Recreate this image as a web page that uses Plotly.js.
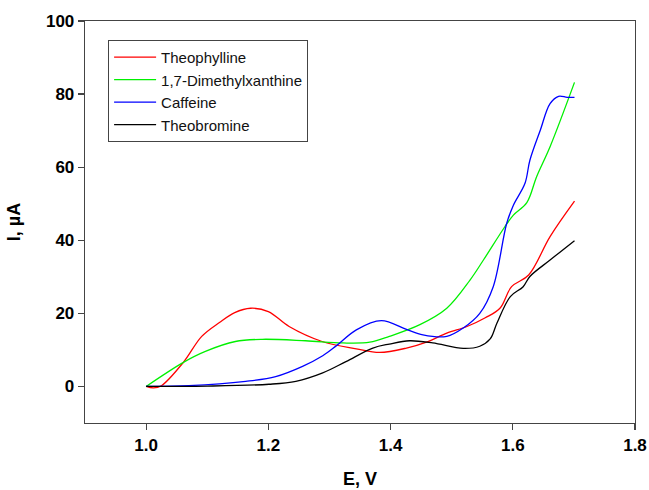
<!DOCTYPE html>
<html><head><meta charset="utf-8">
<script src="https://cdn.plot.ly/plotly-3.0.1.min.js"></script>
<style>html,body{margin:0;padding:0;background:#fff}#chart{width:649px;height:490px}</style>
</head><body><div id="chart"></div>
<script>
const seriesNames = ["Theophylline", "1,7-Dimethylxanthine", "Caffeine", "Theobromine"];
const seriesColors = ["#ff0000", "#00f000", "#0000ff", "#000000"];

const theophyllineE = [1.0, 1.012, 1.025, 1.061, 1.091, 1.12, 1.145, 1.171, 1.2, 1.234, 1.288, 1.344, 1.382, 1.426, 1.46, 1.492, 1.525, 1.555, 1.579, 1.598, 1.626, 1.661, 1.701];
const theophyllineI = [0, -0.4, 0.2, 6.6, 13.7, 17.5, 20.2, 21.4, 20.5, 16.4, 12.3, 10.3, 9.3, 10.5, 12.2, 14.6, 16.4, 18.8, 21.4, 27.3, 30.5, 41, 50.7];

const dimethylE = [1.0, 1.061, 1.097, 1.146, 1.19, 1.261, 1.322, 1.366, 1.398, 1.448, 1.492, 1.53, 1.552, 1.587, 1.601, 1.623, 1.639, 1.661, 1.701];
const dimethylI = [0, 6.6, 9.6, 12.3, 12.9, 12.5, 11.9, 12.1, 13.7, 16.9, 21.4, 29.1, 34.6, 43.7, 46.9, 50.3, 57.4, 65.6, 83.2];

const caffeineE = [1.0, 1.07, 1.163, 1.212, 1.256, 1.289, 1.311, 1.344, 1.385, 1.425, 1.453, 1.492, 1.519, 1.546, 1.568, 1.59, 1.601, 1.62, 1.628, 1.645, 1.661, 1.675, 1.689, 1.701];
const caffeineI = [0, 0.2, 1.4, 2.7, 5.5, 8.4, 11.1, 15.5, 18.0, 15.7, 14.1, 13.7, 16.0, 20.0, 27.3, 44.6, 49.6, 55.6, 61.9, 70.1, 77.4, 79.4, 79.1, 79.1];

const theobromineE = [1.0, 1.1, 1.201, 1.245, 1.289, 1.327, 1.371, 1.398, 1.431, 1.469, 1.519, 1.546, 1.563, 1.574, 1.596, 1.617, 1.628, 1.661, 1.701];
const theobromineI = [0, 0.1, 0.6, 1.4, 3.7, 6.8, 10.5, 11.6, 12.5, 11.9, 10.4, 11.0, 13.0, 17.3, 24.6, 27.3, 30.1, 34.6, 39.9];

const xTicks = [1.0, 1.2, 1.4, 1.6, 1.8];
const xTickText = ["1.0", "1.2", "1.4", "1.6", "1.8"];
const yTicks = [0, 20, 40, 60, 80, 100];

const xs = [theophyllineE, dimethylE, caffeineE, theobromineE];
const ys = [theophyllineI, dimethylI, caffeineI, theobromineI];

const font = "Arial, 'Liberation Sans', sans-serif";
const traces = seriesNames.map((n, i) => ({
  x: xs[i], y: ys[i], name: n, type: 'scatter', mode: 'lines',
  line: {color: seriesColors[i], width: 1.3, shape: 'spline', smoothing: 1.0}
}));

const axisCommon = {
  showline: true, mirror: true, linecolor: '#444', linewidth: 1.3,
  ticks: 'outside', ticklen: 6, tickwidth: 1.2, tickcolor: '#444',
  showgrid: false, zeroline: false,
  tickfont: {family: font, size: 17, color: '#000', weight: 'bold'}
};

const layout = {
  width: 649, height: 490,
  margin: {l: 85, r: 14, t: 21, b: 67},
  paper_bgcolor: '#fff', plot_bgcolor: '#fff',
  showlegend: true,
  legend: {
    x: 0.042, y: 0.953, xanchor: 'left', yanchor: 'top',
    bgcolor: '#fff', bordercolor: '#444', borderwidth: 1,
    font: {family: font, size: 15, color: '#111'},
    itemwidth: 42,
    tracegroupgap: 0
  },
  xaxis: Object.assign({}, axisCommon, {
    range: [0.9, 1.8], tickvals: xTicks, ticktext: xTickText,
    title: {text: 'E, V', font: {family: font, size: 18, color: '#000', weight: 'bold'}, standoff: 18}
  }),
  yaxis: Object.assign({}, axisCommon, {
    range: [-10, 100], tickvals: yTicks,
    title: {text: 'I, µA', font: {family: font, size: 18, color: '#000', weight: 'bold'}, standoff: 20}
  })
};

Plotly.newPlot('chart', traces, layout, {displayModeBar: false, staticPlot: true});
</script>
</body></html>
